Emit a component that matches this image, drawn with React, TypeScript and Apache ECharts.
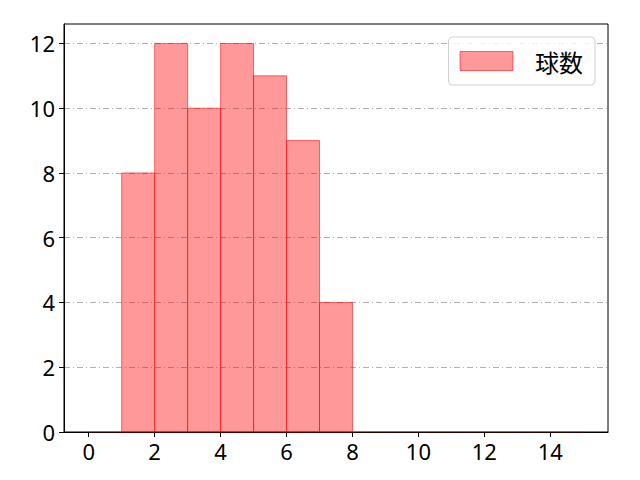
import { useEffect, useRef } from "react";
import * as echarts from "echarts";

// histogram bins (left edges) and counts
const binEdges = [0, 1, 2, 3, 4, 5, 6, 7, 8, 9, 10, 11, 12, 13, 14, 15];
const counts = [0, 8, 12, 10, 12, 11, 9, 4, 0, 0, 0, 0, 0, 0, 0];
const xTicks = [0, 2, 4, 6, 8, 10, 12, 14];
const yTicks = [0, 2, 4, 6, 8, 10, 12];
const seriesName = "球数";

const FONT = "'Noto Sans', 'Noto Sans CJK JP', sans-serif";
const FILL = "rgba(255,0,0,0.4)";
const EDGE = "rgba(255,0,0,0.55)";

export default function App() {
  const ref = useRef<HTMLDivElement>(null);

  useEffect(() => {
    const el = ref.current;
    if (!el) return;
    const chart = echarts.init(el, undefined, { renderer: "svg" });
    const data = counts.map((c, i) => [binEdges[i], binEdges[i + 1], c]);
    chart.setOption({
      animation: false,
      textStyle: { fontFamily: FONT },
      grid: {
        left: 64,
        right: 32,
        top: 24,
        bottom: 48,
        show: true,
        borderColor: "#000",
        borderWidth: 1,
        backgroundColor: "transparent",
      },
      legend: {
        top: 37,
        right: 45,
        padding: [12, 12, 12, 11],
        borderColor: "#d0d0d0",
        borderWidth: 1,
        borderRadius: 4,
        backgroundColor: "rgba(255,255,255,0.8)",
        itemWidth: 53,
        itemHeight: 19,
        icon: "rect",
        textStyle: {
          fontSize: 24,
          color: "#000",
          fontFamily: "'Noto Sans CJK JP', sans-serif",
          padding: [0, 0, 0, 17],
        },
        data: [
          {
            name: seriesName,
            itemStyle: { color: FILL, borderColor: EDGE, borderWidth: 1 },
          },
        ],
      },
      xAxis: {
        type: "value",
        min: -0.75,
        max: 15.75,
        splitLine: { show: false },
        axisLine: { show: true, onZero: false, lineStyle: { color: "#000" } },
        axisTick: {
          show: true,
          length: 5,
          lineStyle: { color: "#000" },
          customValues: xTicks,
        },
        axisLabel: {
          fontSize: 22,
          color: "#000",
          margin: 8,
          fontFamily: FONT,
          customValues: xTicks,
        },
      },
      yAxis: {
        type: "value",
        min: 0,
        max: 12.6,
        interval: 2,
        axisLine: { show: true, onZero: false, lineStyle: { color: "#000" } },
        axisTick: {
          show: true,
          length: 5,
          lineStyle: { color: "#000" },
          customValues: yTicks,
        },
        axisLabel: {
          fontSize: 22,
          color: "#000",
          margin: 9,
          fontFamily: FONT,
          customValues: yTicks,
        },
        splitLine: {
          show: true,
          lineStyle: { color: "#b0b0b0", width: 1, type: [6, 3, 1, 3] },
        },
      },
      series: [
        {
          name: seriesName,
          type: "custom",
          itemStyle: { color: FILL, borderColor: EDGE },
          renderItem: (params: any, api: any) => {
            const p0 = api.coord([api.value(0), api.value(2)]);
            const p1 = api.coord([api.value(1), 0]);
            const empty = api.value(2) === 0;
            return {
              type: "rect",
              shape: {
                x: p0[0],
                y: p0[1],
                width: p1[0] - p0[0],
                height: p1[1] - p0[1],
              },
              style: {
                fill: FILL,
                stroke: empty ? "rgba(255,0,0,0.15)" : EDGE,
                lineWidth: 1,
              },
            };
          },
          encode: { x: [0, 1], y: 2 },
          data,
        },
      ],
    });
    return () => chart.dispose();
  }, []);

  return <div ref={ref} style={{ width: 640, height: 480, margin: -8 }} />;
}
